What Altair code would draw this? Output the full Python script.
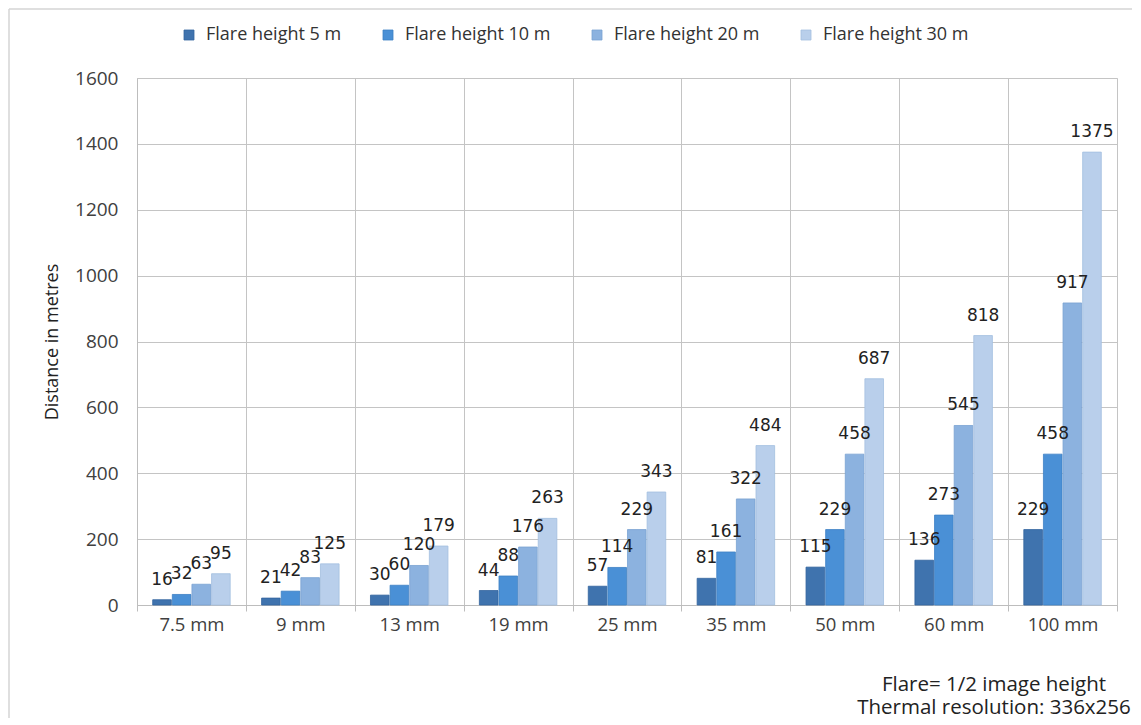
import altair as alt
import pandas as pd

cats = ["7.5 mm", "9 mm", "13 mm", "19 mm", "25 mm", "35 mm", "50 mm", "60 mm", "100 mm"]
series = ["Flare height 5 m", "Flare height 10 m", "Flare height 20 m", "Flare height 30 m"]
h5 = [16, 21, 30, 44, 57, 81, 115, 136, 229]
h10 = [32, 42, 60, 88, 114, 161, 229, 273, 458]
h20 = [63, 83, 120, 176, 229, 322, 458, 545, 917]
h30 = [95, 125, 179, 263, 343, 484, 687, 818, 1375]
notes = ["Flare= 1/2 image height", "Thermal resolution: 336x256"]
colors = ["#3f73ae", "#4a90d6", "#8cb2df", "#b9cfeb"]
strokes = ["#33659e", "#3d80c4", "#7aa2d2", "#a3bfe0"]

rows = []
for s, vals in zip(series, [h5, h10, h20, h30]):
    for c, v in zip(cats, vals):
        rows.append({"lens": c, "series": s, "value": v})
df = pd.DataFrame(rows)
one = pd.DataFrame({"k": [0]})

W, H = 980, 527
font = "Open Sans"

xscale = alt.Scale(domain=cats, paddingInner=0, paddingOuter=0)
yscale = alt.Scale(domain=[0, 1600])
offscale = alt.Scale(paddingInner=0.05, paddingOuter=0.8)

bars = alt.Chart(df).mark_bar(strokeWidth=0.8).encode(
    x=alt.X("lens:N", scale=xscale, sort=cats,
            axis=alt.Axis(title=None, labelAngle=0, labelFont=font, labelFontSize=18.5,
                          labelColor="#404040", labelPadding=4, labelAlign="center",
                          ticks=True, tickBand="extent", tickSize=6, tickColor="#bdbdbd",
                          grid=True, gridColor="#c4c4c4", domainColor="#bdbdbd")),
    xOffset=alt.XOffset("series:N", sort=series, scale=offscale),
    y=alt.Y("value:Q", scale=yscale,
            axis=alt.Axis(title="Distance in metres", titleFont=font, titleFontSize=18,
                          titleFontWeight="normal", titleColor="#222222", titlePadding=13,
                          labelFont=font, labelFontSize=19, labelColor="#404040",
                          labelPadding=19, ticks=False, values=list(range(0, 1601, 200)),
                          format="d", domainColor="#bdbdbd", gridColor="#c4c4c4")),
    color=alt.Color("series:N", sort=series,
                    scale=alt.Scale(domain=series, range=colors),
                    legend=alt.Legend(title=None, orient="none", direction="horizontal",
                                      legendX=43, legendY=-52, symbolType="square",
                                      symbolSize=100, symbolStrokeWidth=0.8,
                                      labelFont=font, labelFontSize=18,
                                      labelColor="#333333", columnPadding=37,
                                      labelOffset=8)),
    stroke=alt.Stroke("series:N", sort=series,
                      scale=alt.Scale(domain=series, range=strokes), legend=None),
)

labels = alt.Chart(df).mark_text(
    font="DejaVu Sans", fontSize=17, color="#222222", baseline="alphabetic", dy=-15
).encode(
    x=alt.X("lens:N", scale=xscale, sort=cats),
    xOffset=alt.XOffset("series:N", sort=series, scale=offscale),
    y=alt.Y("value:Q", scale=yscale),
    text=alt.Text("value:Q"),
)

note_layers = []
for i, t in enumerate(notes):
    note_layers.append(
        alt.Chart(pd.DataFrame({"note": [t]})).mark_text(
            font=font, fontSize=20.5, color="#222222", align="center", baseline="alphabetic"
        ).encode(x=alt.value(857), y=alt.value(613 + 23 * i), text="note:N")
    )

frame_left = alt.Chart(one).mark_rule(color="#d4d4d4", strokeWidth=1.5).encode(
    x=alt.value(-128), y=alt.value(-69), y2=alt.value(640),
)
frame_top = alt.Chart(one).mark_rule(color="#d4d4d4", strokeWidth=1.5).encode(
    x=alt.value(-128), x2=alt.value(995), y=alt.value(-69),
)

chart = alt.layer(frame_left, frame_top, bars, labels, *note_layers).properties(
    width=W, height=H, padding=0,
).configure_view(stroke=None).configure(background="white")

chart.save("out.html", embed_options={"renderer": "svg", "actions": False})
